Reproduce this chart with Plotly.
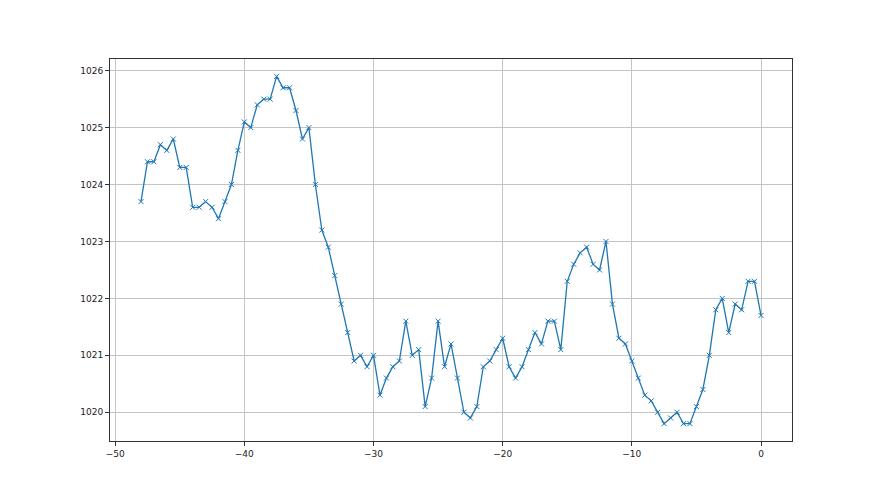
import plotly.graph_objects as go

x_vals = [-48, -47.5, -47, -46.5, -46, -45.5, -45, -44.5, -44, -43.5, -43, -42.5,
          -42, -41.5, -41, -40.5, -40, -39.5, -39, -38.5, -38, -37.5, -37, -36.5,
          -36, -35.5, -35, -34.5, -34, -33.5, -33, -32.5, -32, -31.5, -31, -30.5,
          -30, -29.5, -29, -28.5, -28, -27.5, -27, -26.5, -26, -25.5, -25, -24.5,
          -24, -23.5, -23, -22.5, -22, -21.5, -21, -20.5, -20, -19.5, -19, -18.5,
          -18, -17.5, -17, -16.5, -16, -15.5, -15, -14.5, -14, -13.5, -13, -12.5,
          -12, -11.5, -11, -10.5, -10, -9.5, -9, -8.5, -8, -7.5, -7, -6.5,
          -6, -5.5, -5, -4.5, -4, -3.5, -3, -2.5, -2, -1.5, -1, -0.5, 0]

pressure = [1023.7, 1024.4, 1024.4, 1024.7, 1024.6, 1024.8, 1024.3, 1024.3, 1023.6, 1023.6, 1023.7, 1023.6,
            1023.4, 1023.7, 1024.0, 1024.6, 1025.1, 1025.0, 1025.4, 1025.5, 1025.5, 1025.9, 1025.7, 1025.7,
            1025.3, 1024.8, 1025.0, 1024.0, 1023.2, 1022.9, 1022.4, 1021.9, 1021.4, 1020.9, 1021.0, 1020.8,
            1021.0, 1020.3, 1020.6, 1020.8, 1020.9, 1021.6, 1021.0, 1021.1, 1020.1, 1020.6, 1021.6, 1020.8,
            1021.2, 1020.6, 1020.0, 1019.9, 1020.1, 1020.8, 1020.9, 1021.1, 1021.3, 1020.8, 1020.6, 1020.8,
            1021.1, 1021.4, 1021.2, 1021.6, 1021.6, 1021.1, 1022.3, 1022.6, 1022.8, 1022.9, 1022.6, 1022.5,
            1023.0, 1021.9, 1021.3, 1021.2, 1020.9, 1020.6, 1020.3, 1020.2, 1020.0, 1019.8, 1019.9, 1020.0,
            1019.8, 1019.8, 1020.1, 1020.4, 1021.0, 1021.8, 1022.0, 1021.4, 1021.9, 1021.8, 1022.3, 1022.3, 1021.7]

x_ticks = [-50, -40, -30, -20, -10, 0]
y_ticks = [1020, 1021, 1022, 1023, 1024, 1025, 1026]

fig = go.Figure()
fig.add_trace(go.Scatter(
    x=x_vals, y=pressure, mode="lines+markers",
    line=dict(color="#1f77b4", width=1.3),
    marker=dict(symbol="x-thin", size=5, color="#1f77b4",
                line=dict(width=1, color="#1f77b4")),
    showlegend=False,
))

axis_common = dict(
    showline=True, mirror=True, linecolor="#333333", linewidth=1,
    ticks="outside", ticklen=4, tickcolor="#333333", tickwidth=1,
    showgrid=True, gridcolor="#c4c4c4", gridwidth=1, zeroline=False,
    tickfont=dict(family="DejaVu Sans", size=9, color="#222222"),
)

fig.update_layout(
    width=872, height=487,
    margin=dict(l=102, r=88, t=51, b=54),
    paper_bgcolor="white", plot_bgcolor="white",
    xaxis=dict(range=[-50.4, 2.4], tickvals=x_ticks,
               ticktext=["\u221250", "\u221240", "\u221230", "\u221220", "\u221210", "0"],
               **axis_common),
    yaxis=dict(range=[1019.495, 1026.205], tickvals=y_ticks, **axis_common),
)

fig.write_html("out.html")
